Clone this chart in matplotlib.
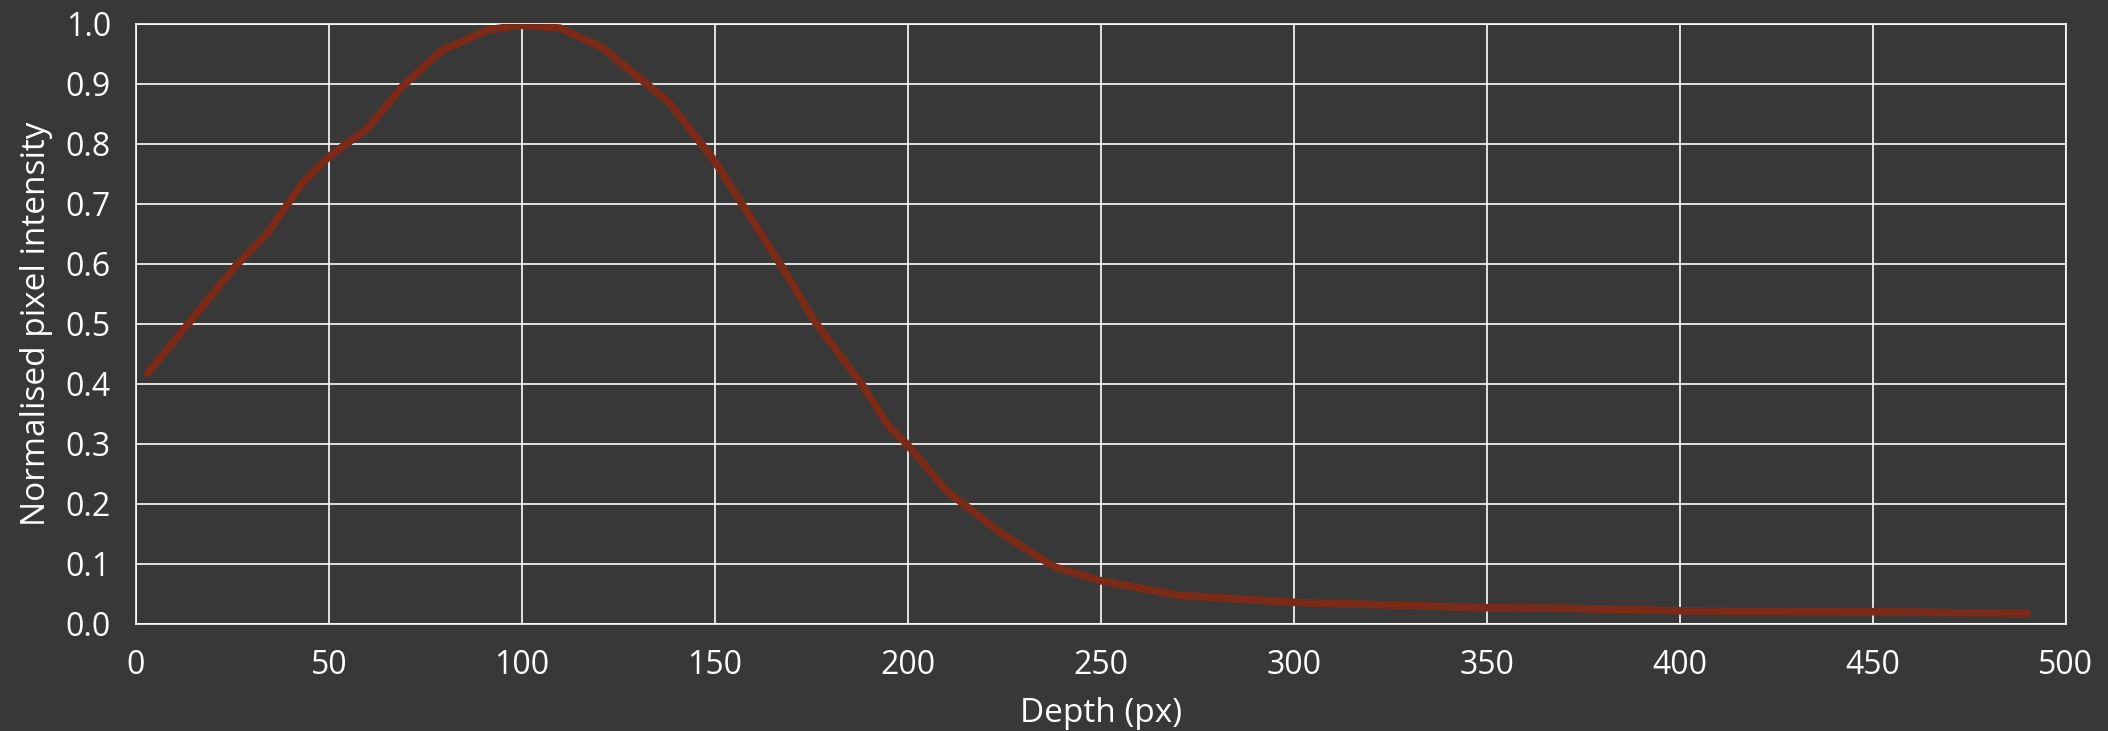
import matplotlib.pyplot as plt
from matplotlib.patches import Rectangle

# depth profile
depth = [3, 14, 26, 34, 43, 50, 60, 69, 79, 91, 100, 110, 121, 130, 138,
         150, 157, 167, 176, 188, 195, 200, 210, 224, 238, 250, 270, 300,
         328, 350, 372, 400, 425, 450, 470, 490]
intensity = [0.418, 0.504, 0.598, 0.651, 0.734, 0.779, 0.826, 0.896, 0.955,
             0.990, 0.998, 0.993, 0.960, 0.912, 0.870, 0.771, 0.700, 0.599,
             0.503, 0.400, 0.330, 0.298, 0.222, 0.152, 0.095, 0.072, 0.048,
             0.036, 0.031, 0.027, 0.026, 0.022, 0.021, 0.0205, 0.019, 0.018]

x_ticks = list(range(0, 501, 50))
y_ticks = [i / 10 for i in range(11)]

bg = '#383838'
plt.rcParams['font.family'] = ['Open Sans', 'DejaVu Sans']
plt.rcParams['hatch.color'] = '#414141'
plt.rcParams['hatch.linewidth'] = 0.8

fig = plt.figure(figsize=(21.08, 7.31), dpi=100, facecolor=bg)
# fine diagonal texture of the background
fig.patches.append(Rectangle((0, 0), 1, 1, transform=fig.transFigure,
                             facecolor=bg, hatch='/' * 24, edgecolor='none',
                             zorder=-10))
ax = fig.add_axes([0.0645, 0.1464, 0.9155, 0.8208])
ax.set_facecolor('none')

ax.plot(depth, intensity, color='#7b2a17', lw=5.5, solid_capstyle='round',
        solid_joinstyle='round', zorder=3)

ax.set_xlim(0, 500)
ax.set_ylim(0, 1.0)
ax.set_xticks(x_ticks)
ax.set_yticks(y_ticks)
ax.set_yticklabels([f'{v:.1f}' for v in y_ticks])
ax.grid(True, color='white', lw=1.2)
ax.set_axisbelow(True)
for s in ax.spines.values():
    s.set_color('white')
    s.set_linewidth(1.2)
ax.tick_params(length=0, colors='white', labelsize=23, pad=18)

ax.set_xlabel('Depth (px)', color='white', fontsize=24, labelpad=11)
ax.set_ylabel('Normalised pixel intensity', color='white', fontsize=24, labelpad=9)

fig.savefig('out.png', dpi=100, facecolor=bg)
